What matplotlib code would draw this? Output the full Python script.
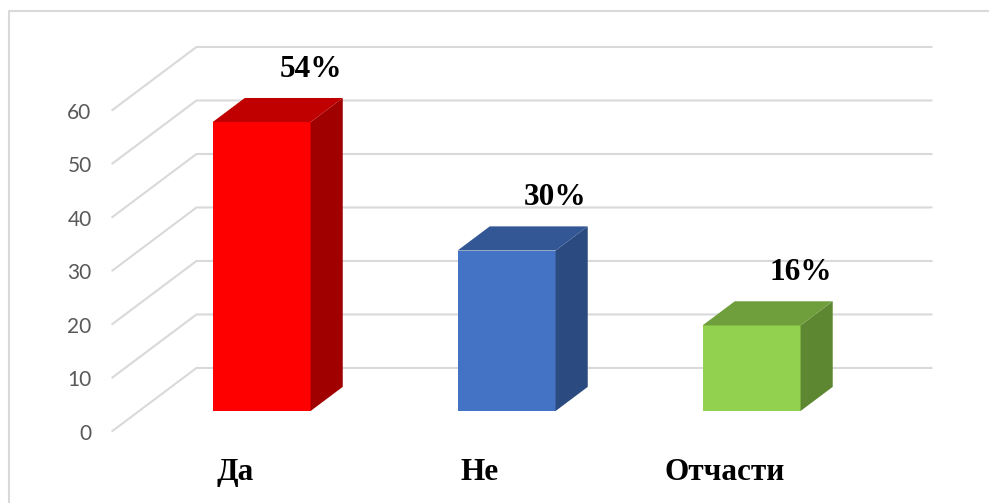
"""Pseudo-3D column chart (Excel style) -> out.png"""

import matplotlib

matplotlib.use("Agg")
import matplotlib.pyplot as plt
from matplotlib.lines import Line2D
from matplotlib.patches import Polygon

# --- data ---------------------------------------------------------------
categories = ["Да", "Не", "Отчасти"]
values = [54, 30, 16]
value_labels = ["54%", "30%", "16%"]
yticks = [0, 10, 20, 30, 40, 50, 60]

front_colors = ["#ff0000", "#4472c4", "#92d050"]
top_colors = ["#c00000", "#335795", "#6f9e3c"]
side_colors = ["#a00000", "#2b4a80", "#5e8732"]

# --- geometry (data units) ----------------------------------------------
DX, DY = 0.343, 11.78       # full depth of the floor / side wall
F0, F1 = 0.317, 0.70        # bar depth span as fraction of full depth
HALF_W = 0.20               # half bar width
GRID = "#d9d9d9"

fig = plt.figure(figsize=(9.89, 5.03), dpi=100)
ax = fig.add_axes([0, 0, 1, 1])
ax.set_xlim(-0.959, 3.078)
ax.set_ylim(-13.46, 80.56)
ax.axis("off")

# side wall diagonals + back wall gridlines
x0, x1 = -0.5, 2.5
for t in yticks:
    ax.plot([x0, x0 + DX, x1 + DX], [t, t + DY, t + DY], color=GRID, lw=1.5,
            solid_joinstyle="miter", zorder=1)
    ax.text(x0 - 0.085, t - 0.5, str(t), ha="right", va="center", fontsize=15,
            color="#595959", family="Lato")

# bars
for i, v in enumerate(values):
    xl = i - HALF_W + F0 * DX
    xr = i + HALF_W + F0 * DX
    yb = F0 * DY
    ddx = (F1 - F0) * DX
    ddy = (F1 - F0) * DY
    front = Polygon([(xl, yb), (xr, yb), (xr, yb + v), (xl, yb + v)],
                    closed=True, fc=front_colors[i], ec="none", zorder=3)
    side = Polygon([(xr, yb), (xr + ddx, yb + ddy), (xr + ddx, yb + ddy + v),
                    (xr, yb + v)], closed=True, fc=side_colors[i], ec="none", zorder=3)
    top = Polygon([(xl, yb + v), (xr, yb + v), (xr + ddx, yb + ddy + v),
                   (xl + ddx, yb + ddy + v)], closed=True, fc=top_colors[i],
                  ec="none", zorder=3)
    for p in (front, side, top):
        ax.add_patch(p)
    ax.text(xr, v + F1 * DY + 5.4, value_labels[i], ha="center", va="center",
            fontsize=22.5, fontweight="bold", family="Liberation Serif", zorder=4)
    ax.text(i, -7.8, categories[i], ha="center", va="center", fontsize=22.5,
            fontweight="bold", family="Liberation Serif")

# chart frame (only top and left visible inside the crop)
bx, by = 9 / 989, 1 - 11 / 503
fig.add_artist(Line2D([bx, bx, 1.0], [0.0, by, by], color=GRID, lw=1.5,
                      transform=fig.transFigure))

fig.savefig("out.png", dpi=100)
